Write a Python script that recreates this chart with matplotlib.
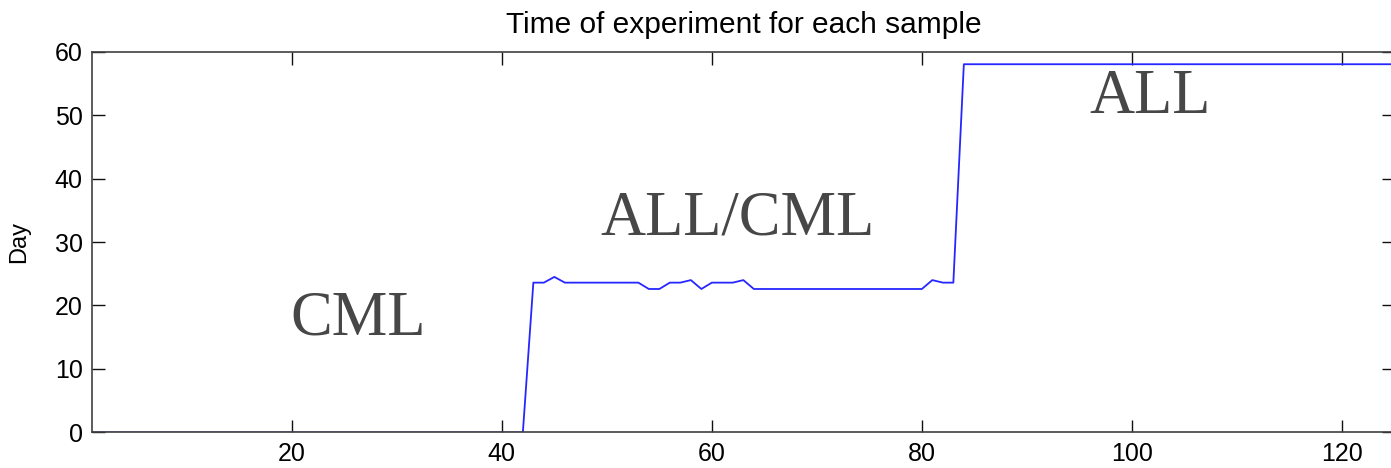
import matplotlib
matplotlib.use('Agg')
import matplotlib.pyplot as plt
import numpy as np

# experiment day per sample (samples numbered 1..125)
cml_days = [0] * 42
mixed_days = [23.6, 23.6, 24.5, 23.6, 23.6, 23.6, 23.6, 23.6, 23.6, 23.6,
              23.6, 22.6, 22.6, 23.6, 23.6, 24.0, 22.6, 23.6, 23.6, 23.6,
              24.0, 22.6, 22.6, 22.6, 22.6, 22.6, 22.6, 22.6, 22.6, 22.6,
              22.6, 22.6, 22.6, 22.6, 22.6, 22.6, 22.6, 22.6, 24.0, 23.6,
              23.6]
all_days = [58] * 42
days = np.array(cml_days + mixed_days + all_days)
samples = np.arange(1, len(days) + 1)

group_labels = ['CML', 'ALL/CML', 'ALL']
label_pos = [(26.3, 15.4), (62.4, 31.2), (101.7, 50.3)]

fig = plt.figure(figsize=(13.91, 4.68), dpi=100)
ax = fig.add_axes([0.0664, 0.0759, 0.936, 0.814])

ax.plot(samples, days, color='#2626ff', lw=1.3)
ax.set_xlim(1, 125)
ax.set_ylim(0, 60)
ax.set_xticks([20, 40, 60, 80, 100, 120])
ax.set_yticks(range(0, 61, 10))

ax.tick_params(direction='in', length=9, width=1.0, color='#101010',
               top=True, right=True, labelsize=18, pad=7)
for sp in ax.spines.values():
    sp.set_color('#404040')
    sp.set_linewidth(1.2)

for lab in ax.get_xticklabels() + ax.get_yticklabels():
    lab.set_fontfamily('Liberation Sans')

ax.set_ylabel('Day', fontsize=17, family='Liberation Sans', labelpad=18)
ax.set_title('Time of experiment for each sample', fontsize=21.5,
             family='Liberation Sans', pad=13)

for txt, (x, y) in zip(group_labels, label_pos):
    ax.text(x, y, txt, ha='center', va='baseline', fontsize=45,
            family='Liberation Serif', color='#474747')

fig.savefig('out.png', dpi=100)
